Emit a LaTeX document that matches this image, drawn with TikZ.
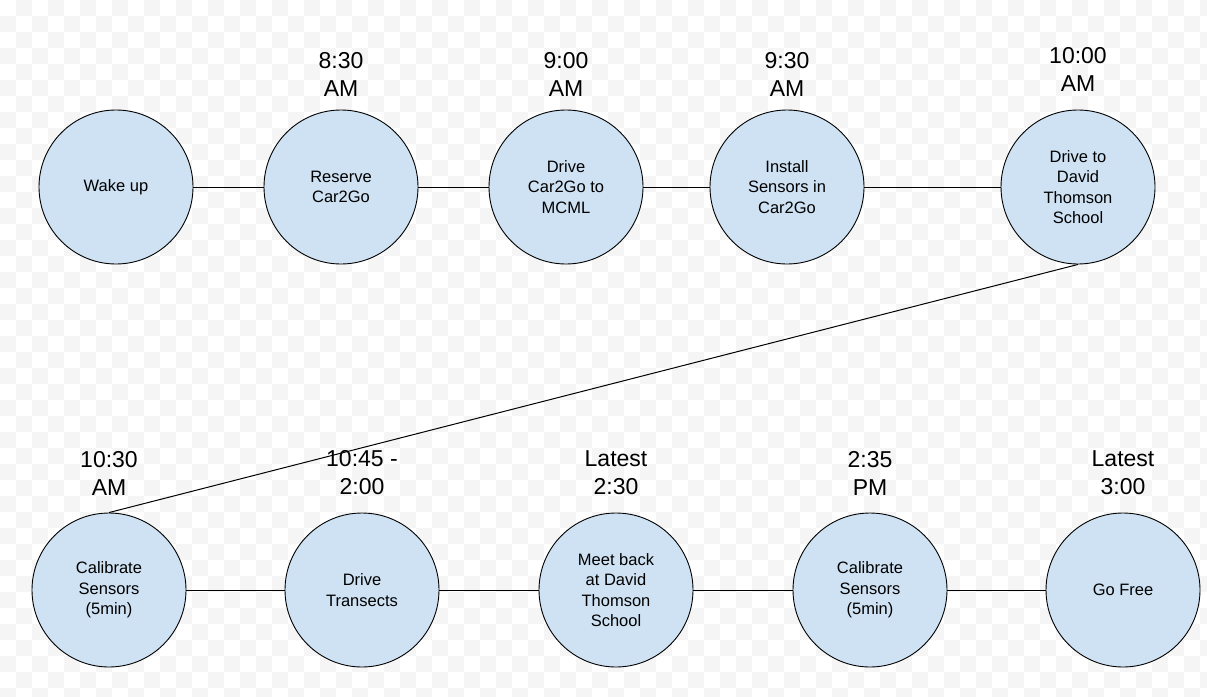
\documentclass[tikz,border=0pt]{standalone}
\usepackage{fontspec}
\setmainfont{Liberation Sans}
\usetikzlibrary{positioning}
\definecolor{stepblue}{HTML}{CFE2F3}
\definecolor{checkgray}{HTML}{F5F5F5}

\begin{document}
\begin{tikzpicture}[x=1pt, y=-1pt]
    \tikzstyle{event} = [circle, draw, fill=stepblue, line width=0.9pt, minimum size=154pt, inner sep=0pt, align=center, font=\fontsize{16.5}{20.5}\selectfont]
    \tikzstyle{timelabel} = [align=center, inner sep=0pt, font=\fontsize{23}{28}\selectfont]
    \tikzstyle{line} = [draw, line width=1pt]

    \useasboundingbox (0,0) rectangle (1207,696);
    % checkered canvas
    \foreach \i in {0,...,75} {
        \foreach \j in {0,...,43} {
            \pgfmathparse{int(mod(\i+\j,2))}
            \ifnum\pgfmathresult=1
                \fill[checkgray] (\i*16,\j*16) rectangle ++(16,16);
            \fi
        }
    }

    % morning row
    \node [event] (wake) at (116,187) {Wake up};
    \node [event] (reserve) at (341,187) {Reserve\\Car2Go};
    \node [event] (drive) at (566,187) {Drive\\Car2Go to\\MCML};
    \node [event] (install) at (787,187) {Install\\Sensors in\\Car2Go};
    \node [event] (school) at (1078,187) {Drive to\\David\\Thomson\\School};

    % afternoon row
    \node [event] (calib) at (109,590) {Calibrate\\Sensors\\(5min)};
    \node [event] (transects) at (362,590) {Drive\\Transects};
    \node [event] (meet) at (616,590) {Meet back\\at David\\Thomson\\School};
    \node [event] (recalib) at (870,590) {Calibrate\\Sensors\\(5min)};
    \node [event] (free) at (1123,590) {Go Free};

    % times
    \node [timelabel] (t830) at (341,74) {8:30\\AM};
    \node [timelabel] (t900) at (566,74) {9:00\\AM};
    \node [timelabel] (t930) at (787,74) {9:30\\AM};
    \node [timelabel] (t1000) at (1078,69) {10:00\\AM};
    \node [timelabel] (t1030) at (109,473) {10:30\\AM};
    \node [timelabel] (t1045) at (362,473) {10:45 -\\2:00};
    \node [timelabel] (t230) at (616,473) {Latest\\2:30};
    \node [timelabel] (t235) at (870,473) {2:35\\PM};
    \node [timelabel] (t300) at (1123,473) {Latest\\3:00};

    \path [line] (wake) -- (reserve);
    \path [line] (reserve) -- (drive);
    \path [line] (drive) -- (install);
    \path [line] (install) -- (school);
    \path [line] (school.south) -- (calib.north);
    \path [line] (calib) -- (transects);
    \path [line] (transects) -- (meet);
    \path [line] (meet) -- (recalib);
    \path [line] (recalib) -- (free);
\end{tikzpicture}
\end{document}
